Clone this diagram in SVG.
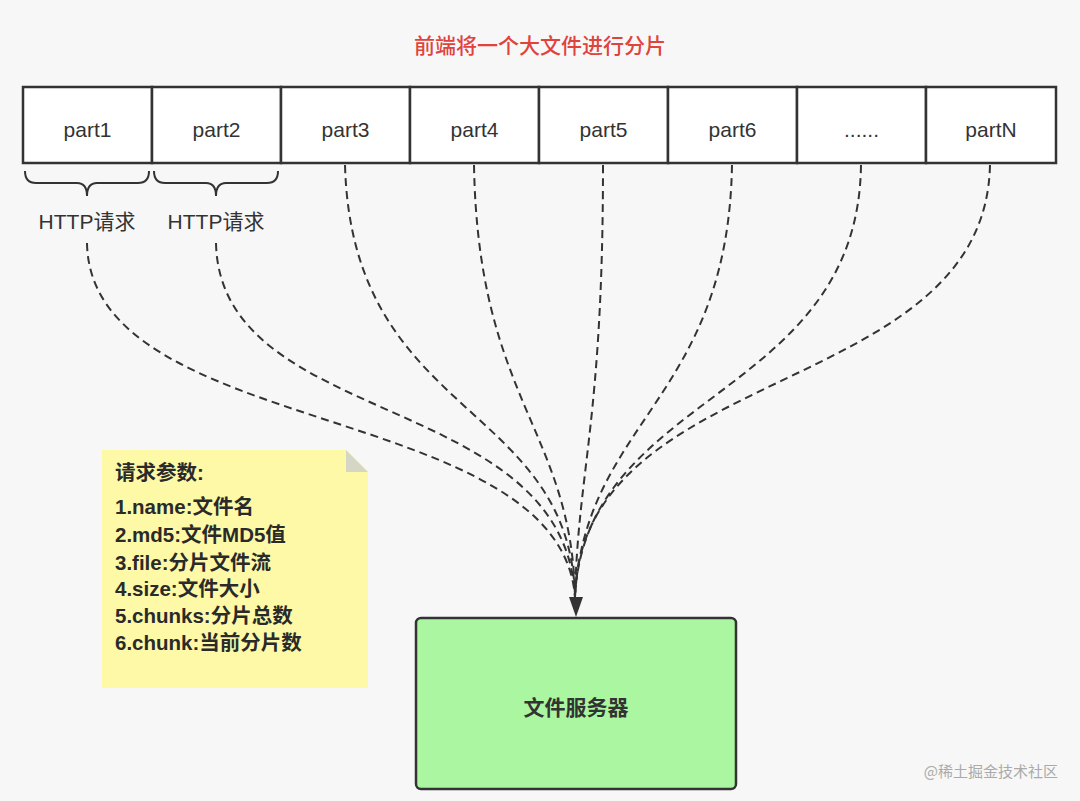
<svg xmlns="http://www.w3.org/2000/svg" width="1080" height="801" viewBox="0 0 1080 801">
<defs>
<style>
.part{fill:#ffffff;stroke:#333333;stroke-width:2.5}
.lbl{font-family:"Liberation Sans","Noto Sans CJK SC",sans-serif;font-size:21px;fill:#333333;text-anchor:middle}
.cjk{font-family:"Noto Sans CJK SC","Liberation Sans",sans-serif}
.conn{fill:none;stroke:#333333;stroke-width:2;stroke-dasharray:8 5}
.brace{fill:none;stroke:#333333;stroke-width:2}
.note{font-family:"Liberation Sans","Noto Sans CJK SC",sans-serif;font-size:20.5px;fill:#2a2a2a;font-weight:bold}
</style>
</defs>
<rect x="0" y="0" width="1080" height="801" fill="#f7f7f7"/>
<text x="540" y="53" class="cjk" font-size="21" font-weight="500" fill="#e0433c" text-anchor="middle">前端将一个大文件进行分片</text>

<g id="part1"><rect class="part" x="23" y="87" width="129" height="76"/><text class="lbl" x="87.5" y="137">part1</text></g>
<g id="part2"><rect class="part" x="152" y="87" width="129" height="76"/><text class="lbl" x="216.5" y="137">part2</text></g>
<g id="part3"><rect class="part" x="281" y="87" width="129" height="76"/><text class="lbl" x="345.5" y="137">part3</text></g>
<g id="part4"><rect class="part" x="410" y="87" width="129" height="76"/><text class="lbl" x="474.5" y="137">part4</text></g>
<g id="part5"><rect class="part" x="539" y="87" width="129" height="76"/><text class="lbl" x="603.5" y="137">part5</text></g>
<g id="part6"><rect class="part" x="668" y="87" width="129" height="76"/><text class="lbl" x="732.5" y="137">part6</text></g>
<g id="partdots"><rect class="part" x="797" y="87" width="129" height="76"/><text class="lbl" x="861.5" y="137">......</text></g>
<g id="partN"><rect class="part" x="926" y="87" width="130" height="76"/><text class="lbl" x="991" y="137">partN</text></g>

<g id="brace1"><path class="brace" d="M25,171 Q25,183 36,183 L77,183 Q87,183 87,196 Q87,183 97,183 L138,183 Q149,183 149,171"/><text class="lbl" x="87" y="229">HTTP请求</text></g>
<g id="brace2"><path class="brace" d="M154,171 Q154,183 165,183 L206,183 Q216,183 216,196 Q216,183 226,183 L267,183 Q278,183 278,171"/><text class="lbl" x="216" y="229">HTTP请求</text></g>

<g id="connectors">
<path class="conn" d="M87,243 C90,440 560,400 575,597"/>
<path class="conn" d="M216,243 C220,430 565,390 575,597"/>
<path class="conn" d="M345,165 C352,420 570,400 575,597"/>
<path class="conn" d="M474,165 C478,400 572,430 575,597"/>
<path class="conn" d="M603,165 C603,420 578,470 575,597"/>
<path class="conn" d="M732,165 C728,400 585,420 575,597"/>
<path class="conn" d="M861,165 C858,400 585,390 575,597"/>
<path class="conn" d="M990,165 C985,400 580,360 575,597"/>
<path d="M569,597 L583,597 L576,617 Z" fill="#333333"/>
</g>

<g id="note">
<path d="M102,450 L346,450 L368,472 L368,688 L102,688 Z" fill="#fdf9a6"/>
<path d="M346,450 L368,472 L346,472 Z" fill="#d6d6c6"/>
<text class="note" x="115" y="480">请求参数:</text>
<text class="note" x="115" y="514">1.name:文件名</text>
<text class="note" x="115" y="542">2.md5:文件MD5值</text>
<text class="note" x="115" y="570">3.file:分片文件流</text>
<text class="note" x="115" y="596">4.size:文件大小</text>
<text class="note" x="115" y="623">5.chunks:分片总数</text>
<text class="note" x="115" y="650">6.chunk:当前分片数</text>
</g>

<g id="server">
<rect x="416" y="618" width="320" height="171" rx="5" fill="#abf6a0" stroke="#333333" stroke-width="2.5"/>
<text class="lbl" x="576" y="715" font-size="21.5" font-weight="bold">文件服务器</text>
</g>

<text x="1058" y="777" class="cjk" font-size="15" fill="#aaaaaa" text-anchor="end">@稀土掘金技术社区</text>
</svg>
